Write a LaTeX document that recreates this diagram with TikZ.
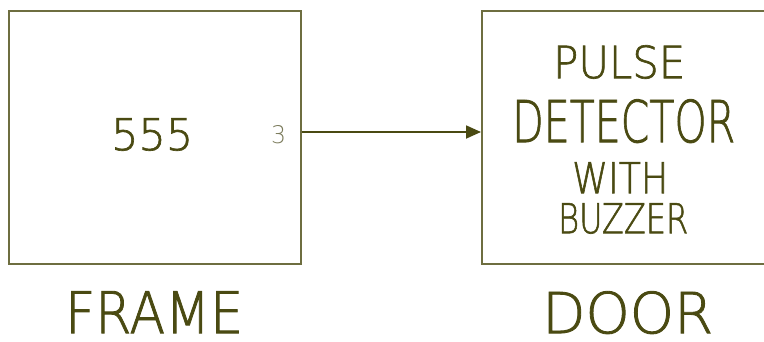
\documentclass[tikz,border=0pt]{standalone}
\usepackage{fontspec}
\usepackage{graphicx}
\setmainfont[AutoFakeBold=1.5]{DejaVu Sans ExtraLight}
\usetikzlibrary{arrows.meta}
\definecolor{olive}{HTML}{4A4A12}
\definecolor{lineol}{HTML}{6E6E40}
\definecolor{greyol}{HTML}{7A7A5A}
\newcommand{\fitlbl}[3]{\resizebox{#1pt}{#2pt}{#3}}
\begin{document}
\begin{tikzpicture}[x=1pt,y=-1pt,
  boxline/.style={draw=lineol,line width=1.6pt},
  lbl/.style={inner sep=0pt,text=olive,font=\bfseries},
  conn/.style={draw=olive,line width=1.8pt,-{Triangle[length=15pt,width=13pt]}}]
\useasboundingbox (0,0) rectangle (764,341);
\clip (0,0) rectangle (764,341);
\node[boxline,minimum width=292pt,minimum height=253pt,inner sep=0pt,anchor=north west] (frame) at (8,10) {};
\node[boxline,minimum width=300pt,minimum height=253pt,inner sep=0pt,anchor=north west] (door) at (481,10) {};
\node[lbl,anchor=north west] (n555) at (111,118) {\fitlbl{82}{32}{555}};
\node[lbl,anchor=north west,text=greyol,font=\mdseries] (pin) at (271,125) {\fitlbl{15}{18}{3}};
\node[lbl,anchor=north west] (pulse) at (553,45) {\fitlbl{132}{33}{PULSE}};
\node[lbl,anchor=north west] (det) at (512,99) {\fitlbl{223}{43}{DETECTOR}};
\node[lbl,anchor=north west] (with) at (572,162) {\fitlbl{96}{31}{WITH}};
\node[lbl,anchor=north west] (buzz) at (558,203) {\fitlbl{130}{30}{BUZZER}};
\node[lbl,anchor=north west] (flabel) at (65,291) {\fitlbl{178}{42}{FRAME}};
\node[lbl,anchor=north west] (dlabel) at (542,291) {\fitlbl{171}{42}{DOOR}};
\draw[conn] (frame.east |- 0,132) -- (door.west |- 0,132);
\end{tikzpicture}
\end{document}
